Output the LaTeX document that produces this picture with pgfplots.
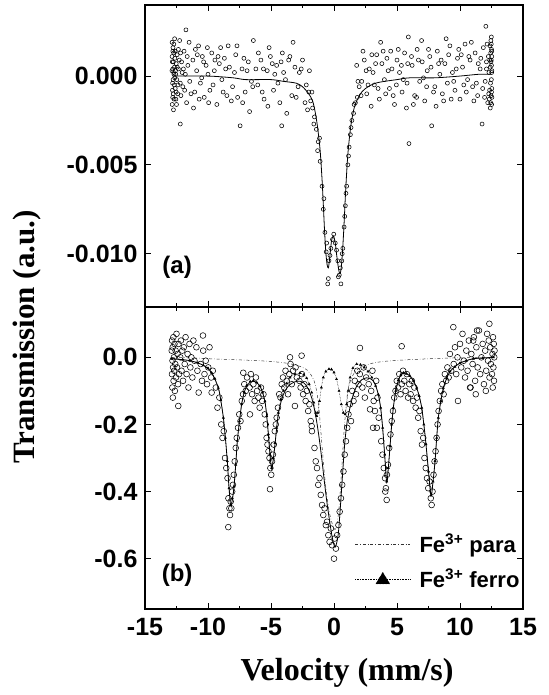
\documentclass[border=0pt]{standalone}
\usepackage{fontspec}
\setmainfont{Liberation Sans}
\newfontfamily\timesfont{Liberation Serif}
\usepackage{pgfplots}
\pgfplotsset{compat=1.18}
\pgfplotsset{
  myax/.style={scale only axis, width=378bp, height=302bp,
    xmin=-15, xmax=15, xtick={-15,-10,-5,0,5,10,15}, minor x tick num=1,
    tick align=inside, xtick pos=both, ytick pos=both,
    axis line style={line width=1.1bp},
    major tick length=6bp, minor tick length=3.5bp,
    every tick/.style={line width=0.8bp, black},
    tick label style={font=\bfseries\fontsize{25bp}{27bp}\selectfont},
    xticklabel style={yshift=-6bp}, yticklabel style={xshift=-4bp},
    scaled y ticks=false, scaled x ticks=false, clip=true},
  pts/.style={only marks, mark=o, black, mark options={line width=0.55bp}},
}
\begin{document}
\begin{tikzpicture}
\useasboundingbox (-145bp,-86bp) rectangle (404bp,609bp);
% ---------------- panel (b) ----------------
\begin{axis}[myax, at={(0bp,0bp)}, anchor=south west,
  ymin=-0.75, ymax=0.15, ytick={-0.6,-0.4,-0.2,0}, yticklabels={-0.6,-0.4,-0.2,0.0},
  xticklabels={-15,-10,-5,0,5,10,15},
  legend style={at={(0.555,0.06)}, anchor=south west, draw=none, fill=none,
    font=\bfseries\fontsize{22bp}{24bp}\selectfont, row sep=11bp, inner sep=0pt,
    cells={anchor=west}}]
\addplot[pts, mark size=2.9bp, forget plot] coordinates {
(-12.88,0.02) (-12.86,-0.05) (-12.85,0.05) (-12.83,-0.09) (-12.82,-0.01) (-12.80,0.03) (-12.79,-0.12) (-12.77,-0.03)
(-12.75,0.06) (-12.73,-0.07) (-12.71,0.00) (-12.68,-0.04) (-12.66,0.04) (-12.63,-0.10) (-12.60,-0.02) (-12.57,0.02)
(-12.54,-0.06) (-12.50,0.07) (-12.46,-0.03) (-12.42,0.01) (-12.38,-0.08) (-12.34,0.04) (-12.30,-0.05) (-12.36,-0.145)
(-12.20,0.00) (-12.15,0.05) (-12.10,-0.04) (-12.04,0.02) (-11.98,-0.07) (-11.92,0.03) (-11.85,-0.02) (-11.78,0.06)
(-11.70,-0.05) (-11.62,0.01) (-11.55,-0.09) (-11.47,0.04) (-11.40,-0.03) (-11.32,0.00) (-11.24,-0.06) (-11.16,0.05)
(-11.08,-0.01) (-10.74,-0.105) (-10.92,0.03) (-10.84,-0.04) (-10.40,0.065) (-10.58,-0.02) (-10.48,-0.07) (-10.38,0.02)
(-10.28,-0.05) (-10.18,-0.01) (-10.08,-0.08) (-9.98,-0.03) (-9.88,0.03) (-9.75,-0.06) (-9.62,-0.04) (-9.71,-0.105)
(-9.38,-0.09) (-9.25,-0.15) (-9.10,-0.12) (-8.95,-0.20) (-8.85,-0.24) (-8.75,-0.22) (-8.65,-0.30) (-8.55,-0.33)
(-8.45,-0.36) (-8.38,-0.42) (-8.30,-0.45) (-8.25,-0.47) (-8.20,-0.43) (-8.15,-0.45) (-8.39,-0.506) (-8.08,-0.40)
(-8.02,-0.38) (-7.95,-0.35) (-7.88,-0.31) (-7.80,-0.27) (-7.72,-0.24) (-7.62,-0.21) (-7.52,-0.17) (-7.42,-0.19)
(-7.32,-0.13) (-7.22,-0.11) (-7.12,-0.08) (-7.00,-0.10) (-6.90,-0.06) (-7.20,-0.046) (-6.70,-0.09) (-6.60,-0.05)
(-6.50,-0.11) (-6.40,-0.08) (-6.30,-0.13) (-6.20,-0.06) (-6.10,-0.10) (-6.00,-0.12) (-5.90,-0.15) (-6.67,-0.17)
(-5.80,-0.09) (-5.70,-0.13) (-5.60,-0.11) (-5.50,-0.17) (-5.42,-0.20) (-5.35,-0.24) (-5.28,-0.26) (-5.20,-0.28)
(-5.12,-0.30) (-5.05,-0.33) (-4.98,-0.35) (-4.92,-0.31) (-4.85,-0.29) (-5.08,-0.393) (-4.78,-0.26) (-4.70,-0.22)
(-4.62,-0.20) (-4.55,-0.18) (-4.45,-0.15) (-4.35,-0.11) (-4.25,-0.12) (-4.15,-0.08) (-4.05,-0.06) (-3.95,-0.09)
(-3.85,-0.04) (-3.75,-0.07) (-3.65,-0.11) (-3.55,-0.05) (-3.45,-0.02) (-3.35,-0.08) (-3.25,-0.04) (-3.10,-0.145)
(-3.05,-0.03) (-2.95,-0.06) (-3.49,0.00) (-2.57,0.005) (-2.75,-0.07) (-2.65,-0.09) (-2.55,-0.05) (-2.45,-0.11)
(-2.35,-0.08) (-2.25,-0.13) (-2.15,-0.10) (-2.05,-0.16) (-1.95,-0.14) (-1.85,-0.19) (-1.75,-0.22) (-1.77,-0.205)
(-1.55,-0.27) (-1.45,-0.31) (-1.35,-0.33) (-1.25,-0.38) (-1.15,-0.36) (-1.05,-0.41) (-0.95,-0.44) (-0.85,-0.47)
(-0.75,-0.45) (-0.65,-0.50) (-0.55,-0.49) (-0.45,-0.53) (-0.35,-0.55) (-0.25,-0.51) (-0.15,-0.56) (0.00,-0.60)
(0.05,-0.54) (0.15,-0.57) (0.25,-0.53) (0.35,-0.50) (0.45,-0.46) (0.55,-0.42) (0.65,-0.38) (0.75,-0.34)
(0.85,-0.29) (0.95,-0.25) (1.05,-0.21) (1.15,-0.17) (1.25,-0.14) (1.35,-0.19) (1.45,-0.10) (1.55,-0.13)
(1.65,-0.07) (1.75,-0.11) (1.85,-0.04) (1.95,-0.08) (2.05,-0.05) (2.06,0.028) (2.25,-0.09) (2.35,-0.03)
(2.45,-0.12) (2.55,-0.06) (2.86,-0.155) (2.75,-0.08) (2.95,-0.10) (3.05,-0.04) (3.15,-0.13) (3.25,-0.16)
(3.35,-0.07) (3.45,-0.12) (3.55,-0.18) (3.10,-0.21) (3.40,-0.21) (3.75,-0.25) (3.85,-0.29) (3.95,-0.33)
(4.05,-0.36) (4.12,-0.39) (4.20,-0.35) (4.28,-0.32) (4.07,-0.40) (4.18,-0.425) (4.38,-0.27) (4.48,-0.23)
(4.58,-0.19) (4.68,-0.16) (4.78,-0.12) (4.88,-0.10) (4.98,-0.07) (5.08,-0.09) (5.18,-0.05) (5.28,-0.11)
(5.38,-0.08) (5.48,-0.04) (5.58,-0.07) (5.68,-0.10) (5.78,-0.05) (5.88,-0.12) (5.98,-0.08) (5.37,0.033)
(6.08,-0.11) (6.18,-0.07) (6.28,-0.13) (6.38,-0.09) (6.48,-0.15) (6.58,-0.12) (6.68,-0.18) (6.78,-0.16)
(6.88,-0.22) (6.98,-0.26) (7.08,-0.24) (7.18,-0.30) (7.28,-0.33) (7.38,-0.36) (7.48,-0.39) (7.58,-0.37)
(7.68,-0.42) (7.75,-0.44) (7.82,-0.40) (7.90,-0.35) (7.98,-0.31) (8.06,-0.28) (8.14,-0.24) (8.22,-0.20)
(8.30,-0.16) (8.40,-0.13) (8.50,-0.10) (8.60,-0.08) (8.70,-0.11) (8.80,-0.05) (8.90,-0.07) (9.00,-0.03)
(9.10,-0.06) (9.20,0.01) (9.30,-0.04) (9.47,0.09) (9.50,-0.02) (9.60,0.03) (9.70,-0.05) (9.80,0.00)
(9.84,-0.13) (10.00,0.04) (10.10,-0.03) (10.20,0.07) (10.30,-0.01) (10.40,-0.06) (10.50,0.02) (10.60,-0.04)
(10.70,0.05) (10.80,-0.09) (10.90,0.01) (11.00,-0.02) (11.10,0.06) (11.20,-0.07) (11.30,0.03) (11.40,-0.03)
(11.50,0.08) (11.60,-0.05) (11.70,0.00) (11.80,0.04) (11.90,-0.08) (12.00,0.02) (12.08,-0.04) (12.15,0.07)
(12.22,-0.01) (12.28,0.05) (12.34,-0.06) (12.40,0.03) (12.45,-0.02) (12.33,0.10) (12.54,-0.05) (12.58,0.01)
(12.62,0.06) (12.65,-0.03) (12.68,0.04) (12.70,-0.07) (12.72,0.00) (12.74,0.02) (11.25,-0.11) (10.84,-0.09)
(11.35,0.08) (12.05,-0.10) (12.60,-0.09) (11.05,0.05)
};
% total fit
\addplot[black, line width=0.8bp, smooth, forget plot] coordinates {
(-12.88,-0.004) (-11.43,-0.010) (-10.37,-0.024) (-9.71,-0.046) (-9.18,-0.091) (-8.98,-0.130) (-8.78,-0.180)
(-8.62,-0.24) (-8.47,-0.309) (-8.33,-0.39) (-8.20,-0.442) (-8.07,-0.425) (-7.94,-0.388) (-7.80,-0.32)
(-7.67,-0.249) (-7.50,-0.19) (-7.33,-0.140) (-7.13,-0.105) (-6.93,-0.086) (-6.65,-0.074) (-6.40,-0.071)
(-6.13,-0.076) (-5.87,-0.086) (-5.67,-0.105) (-5.48,-0.131) (-5.34,-0.175) (-5.21,-0.229) (-5.08,-0.29)
(-4.95,-0.333) (-4.82,-0.305) (-4.68,-0.259) (-4.55,-0.21) (-4.42,-0.170) (-4.22,-0.135) (-4.02,-0.111)
(-3.75,-0.092) (-3.49,-0.081) (-3.10,-0.073) (-2.70,-0.071) (-2.40,-0.076) (-2.17,-0.086) (-1.97,-0.100)
(-1.77,-0.121) (-1.57,-0.152) (-1.38,-0.190) (-1.18,-0.24) (-0.98,-0.299) (-0.78,-0.365) (-0.58,-0.427)
(-0.38,-0.48) (-0.19,-0.526) (-0.05,-0.552) (0.08,-0.566) (0.20,-0.555) (0.34,-0.526) (0.47,-0.465)
(0.61,-0.388) (0.74,-0.315) (0.87,-0.249) (1.05,-0.19) (1.27,-0.150) (1.50,-0.115) (1.80,-0.086)
(2.20,-0.067) (2.59,-0.061) (2.85,-0.063) (3.12,-0.071) (3.32,-0.086) (3.52,-0.111) (3.70,-0.15)
(3.86,-0.210) (4.02,-0.29) (4.18,-0.373) (4.31,-0.33) (4.44,-0.269) (4.57,-0.205) (4.71,-0.150)
(4.90,-0.100) (5.10,-0.071) (5.30,-0.052) (5.50,-0.046) (5.75,-0.048) (6.03,-0.056) (6.30,-0.070)
(6.56,-0.091) (6.76,-0.115) (6.96,-0.150) (7.13,-0.20) (7.30,-0.259) (7.50,-0.34) (7.70,-0.412)
(7.86,-0.37) (8.02,-0.309) (8.15,-0.24) (8.28,-0.180) (8.48,-0.13) (8.68,-0.091) (8.95,-0.062)
(9.21,-0.042) (9.60,-0.028) (10.00,-0.017) (10.50,-0.010) (11.06,-0.004) (11.80,-0.002) (12.65,0.000)
};
% Fe3+ para
\addplot[black!80, line width=0.5bp, dash dot, smooth,
  legend image code/.code={\draw[black!80, line width=0.6bp, dash dot] (0bp,0bp) -- (55bp,0bp); \path (62bp,0bp);}]
coordinates {
(-12.88,0.000) (-11,-0.002) (-10,-0.004) (-8,-0.007) (-6,-0.010) (-4.5,-0.014) (-3.5,-0.019) (-2.7,-0.027)
(-2.2,-0.036) (-1.9,-0.048) (-1.6,-0.068) (-1.38,-0.10) (-1.2,-0.15) (-0.98,-0.25) (-0.78,-0.34) (-0.58,-0.41)
(-0.38,-0.46) (-0.19,-0.49) (0.0,-0.51) (0.15,-0.51) (0.34,-0.47) (0.50,-0.40) (0.65,-0.31) (0.80,-0.22)
(0.95,-0.15) (1.1,-0.10) (1.3,-0.07) (1.55,-0.05) (1.9,-0.035) (2.4,-0.025) (3.1,-0.017) (4.0,-0.012)
(5.0,-0.009) (6.5,-0.006) (8.5,-0.003) (10.5,-0.001) (12.65,0.000)
};
\addlegendentry{Fe\textsuperscript{3+} para}
% Fe3+ ferro
\addplot[black, line width=0.5bp, densely dotted, smooth, mark=triangle*, mark size=1.2bp,
  mark options={solid},
  legend image code/.code={\draw[black, line width=0.6bp, densely dotted] (0bp,0bp) -- (55bp,0bp);
    \fill[black] (27.5bp,6.5bp) -- (20.5bp,-5bp) -- (34.5bp,-5bp) -- cycle; \path (62bp,0bp);}]
coordinates {
(-12.88,-0.004) (-12.0,-0.007) (-11.43,-0.010) (-10.8,-0.016) (-10.37,-0.024) (-10.0,-0.032) (-9.71,-0.046)
(-9.45,-0.064) (-9.18,-0.091) (-8.98,-0.128) (-8.78,-0.180) (-8.62,-0.24) (-8.47,-0.309) (-8.33,-0.39)
(-8.2,-0.440) (-8.07,-0.42) (-7.94,-0.385) (-7.80,-0.32) (-7.67,-0.249) (-7.50,-0.19) (-7.33,-0.140)
(-7.13,-0.105) (-6.93,-0.084) (-6.65,-0.072) (-6.40,-0.069) (-6.13,-0.075) (-5.87,-0.086) (-5.67,-0.105)
(-5.48,-0.131) (-5.34,-0.175) (-5.21,-0.229) (-5.08,-0.29) (-4.95,-0.330) (-4.82,-0.30) (-4.68,-0.255)
(-4.55,-0.21) (-4.42,-0.165) (-4.22,-0.125) (-4.02,-0.100) (-3.75,-0.078) (-3.49,-0.060) (-3.10,-0.050)
(-2.70,-0.047) (-2.40,-0.052) (-2.17,-0.062) (-1.97,-0.080) (-1.77,-0.105) (-1.60,-0.135) (-1.45,-0.165)
(-1.37,-0.175) (-1.28,-0.165) (-1.15,-0.13) (-1.0,-0.09) (-0.85,-0.06) (-0.65,-0.042) (-0.40,-0.035)
(-0.20,-0.036) (0.0,-0.045) (0.2,-0.065) (0.4,-0.10) (0.58,-0.14) (0.74,-0.165) (0.88,-0.17) (1.0,-0.14)
(1.12,-0.10) (1.28,-0.06) (1.5,-0.032) (1.8,-0.020) (2.1,-0.022) (2.4,-0.030) (2.7,-0.042) (3.0,-0.060)
(3.3,-0.085) (3.52,-0.111) (3.70,-0.15) (3.86,-0.210) (4.02,-0.29) (4.18,-0.370) (4.31,-0.33) (4.44,-0.265)
(4.57,-0.200) (4.71,-0.150) (4.90,-0.100) (5.10,-0.068) (5.30,-0.052) (5.50,-0.046) (5.75,-0.049)
(6.03,-0.056) (6.30,-0.070) (6.56,-0.091) (6.76,-0.115) (6.96,-0.150) (7.13,-0.20) (7.30,-0.259)
(7.50,-0.34) (7.70,-0.412) (7.86,-0.37) (8.02,-0.309) (8.15,-0.24) (8.28,-0.180) (8.48,-0.13) (8.68,-0.091)
(8.95,-0.062) (9.21,-0.042) (9.6,-0.028) (10.0,-0.017) (10.5,-0.010) (11.06,-0.004) (11.8,-0.002) (12.65,0.000)
};
\addlegendentry{Fe\textsuperscript{3+} ferro}
\node[font=\bfseries\fontsize{24bp}{26bp}\selectfont] at (rel axis cs:0.085,0.11) {(b)};
\end{axis}
% ---------------- panel (a) ----------------
\begin{axis}[myax, at={(0bp,302bp)}, anchor=south west,
  ymin=-0.013, ymax=0.004, ytick={-0.010,-0.005,0}, yticklabels={-0.010,-0.005,0.000},
  xticklabels={}]
\addplot[pts, mark size=2.0bp] coordinates {
(-12.85,0.0019) (-12.85,0.0011) (-12.82,-0.0008) (-12.80,0.0004) (-12.80,-0.0012) (-12.78,0.0016) (-12.77,-0.0002)
(-12.75,0.0008) (-12.74,-0.0019) (-12.72,0.0013) (-12.70,0.0001) (-12.68,-0.0005) (-12.66,0.0005) (-12.63,0.0010)
(-12.60,-0.0007) (-12.58,0.0003) (-12.55,-0.0013) (-12.52,0.0007) (-12.48,-0.0002) (-12.45,0.0012) (-12.40,-0.0010)
(-12.35,0.0004) (-12.20,-0.0027) (-12.25,0.0020) (-12.20,-0.0004) (-12.10,0.0008) (-12.00,-0.0006) (-11.90,0.0014)
(-11.80,0.0001) (-11.70,-0.0015) (-11.60,0.0006) (-11.45,-0.0003) (-11.75,0.0026) (-11.20,0.0009) (-11.05,-0.0009)
(-10.90,0.0003) (-10.75,0.0017) (-10.60,-0.0004) (-10.45,0.0011) (-10.30,-0.0012) (-10.15,0.0006) (-10.00,0.0001)
(-9.85,-0.0008) (-9.70,0.0013) (-9.50,0.0003) (-9.30,-0.0016) (-9.10,0.0007) (-8.90,-0.0002) (-8.70,0.0010)
(-8.50,-0.0011) (-8.30,0.0005) (-8.05,-0.0006) (-7.80,0.0012) (-7.45,-0.0028) (-7.30,0.0004) (-7.05,-0.0009)
(-6.80,0.0008) (-6.55,-0.0003) (-6.40,0.0020) (-6.05,-0.0005) (-5.80,0.0009) (-5.55,-0.0013) (-5.30,0.0003)
(-5.05,0.0011) (-4.80,-0.0008) (-4.55,0.0006) (-4.30,-0.0015) (-4.10,0.0013) (-3.85,-0.0002) (-3.60,0.0009)
(-3.35,-0.0011) (-3.10,0.0005) (-2.85,-0.0006) (-2.60,0.0004) (-4.15,-0.0028) (-2.20,-0.0005) (-2.00,-0.0009)
(-1.85,-0.0014) (-1.70,-0.0018) (-1.55,-0.0023) (-1.40,-0.0030) (-1.25,-0.0037) (-1.10,-0.0048) (-0.95,-0.0062)
(-0.85,-0.0075) (-0.72,-0.0088) (-0.62,-0.0099) (-0.45,-0.0114) (-0.40,-0.0104) (-0.32,-0.0101) (-0.25,-0.0097)
(-0.12,-0.0092) (-0.02,-0.0089) (0.10,-0.0094) (0.20,-0.0098) (0.30,-0.0104) (0.42,-0.0112) (0.50,-0.0108)
(0.62,-0.0104) (0.70,-0.0097) (0.80,-0.0085) (0.90,-0.0073) (1.00,-0.0062) (1.10,-0.0050) (1.20,-0.0040)
(1.30,-0.0033) (1.42,-0.0025) (1.55,-0.0021) (1.70,-0.0015) (1.85,-0.0012) (2.00,-0.0006) (1.80,0.0006)
(2.20,-0.0003) (2.40,0.0009) (2.60,-0.0010) (2.80,0.0004) (3.00,0.0012) (3.20,-0.0005) (3.39,0.0012)
(3.60,-0.0013) (3.80,0.0007) (4.00,-0.0002) (4.20,0.0010) (4.40,-0.0007) (4.60,0.0004) (4.80,-0.0016)
(5.00,0.0009) (5.20,0.0002) (5.40,-0.0009) (5.60,0.0013) (5.80,-0.0004) (5.90,0.0022) (5.95,-0.0038)
(6.20,0.0006) (6.40,-0.0011) (6.60,0.0015) (6.80,-0.0003) (7.00,0.0008) (7.20,-0.0014) (7.40,0.0003)
(7.60,0.0011) (7.75,-0.0028) (8.00,-0.0006) (8.20,0.0014) (8.40,0.0001) (8.60,-0.0010) (8.80,0.0007)
(9.00,-0.0004) (9.20,0.0017) (9.40,0.0002) (9.60,-0.0008) (9.80,0.0010) (10.00,-0.0013) (10.20,0.0005)
(10.40,0.0018) (10.60,-0.0002) (10.80,0.0009) (11.00,-0.0006) (11.20,0.0013) (11.40,-0.0011) (11.60,0.0004)
(11.75,-0.0027) (11.85,0.0016) (12.00,-0.0003) (12.10,0.0008) (12.20,-0.0015) (12.25,0.0011) (12.30,0.0002)
(12.35,-0.0008) (12.38,0.0017) (12.40,0.0005) (12.42,-0.0004) (12.44,0.0013) (12.05,0.0028) (12.47,-0.0011)
(12.48,0.0009) (12.49,-0.0002) (12.50,0.0015) (12.50,0.0006) (12.51,-0.0016) (12.52,0.0011) (12.52,-0.0007)
(12.53,0.0003)
(-12.65,0.0021) (-12.5,-0.0016) (-12.35,0.0015) (-12.15,-0.0011) (-11.95,0.0004) (-11.5,0.0019) (-11.15,-0.0018)
(-10.85,0.0012) (-10.5,-0.0001) (-10.05,0.0016) (-9.6,-0.0005) (-9.2,0.0011) (-8.8,-0.0009) (-8.4,0.0017)
(-7.9,0.0002) (-7.65,-0.0012) (-7.15,0.0010) (-6.7,-0.0020) (-6.2,0.0004) (-5.7,-0.0009) (-5.15,0.0016)
(-4.7,0.0001) (-4.2,0.0008) (-3.75,-0.0021) (-3.25,0.0019) (-2.75,0.0002) (-2.3,-0.0015) (-1.95,0.0003)
(2.15,-0.0011) (2.55,0.0003) (2.95,-0.0017) (3.3,0.0007) (3.7,0.0019) (4.1,-0.0010) (4.5,0.0014)
(4.95,-0.0005) (5.35,0.0006) (5.75,-0.0018) (6.15,0.0011) (6.55,-0.0012) (6.95,0.0020) (7.35,-0.0006)
(7.7,0.0005) (8.1,-0.0017) (8.5,0.0009) (8.9,0.0021) (9.3,-0.0013) (9.7,0.0004) (10.1,0.0012)
(10.5,-0.0009) (10.9,0.0019) (11.3,-0.0004) (11.65,0.0010) (11.95,-0.0012) (12.15,0.0018) (12.33,-0.0013)
(12.45,0.0020) (12.40,-0.0018) (12.49,0.0022)
(-12.86,0.0003) (-12.84,-0.0016) (-12.83,0.0008) (-12.81,-0.0004) (-12.79,0.0014) (-12.76,-0.0010) (-12.73,0.0002)
(-12.71,0.0018) (-12.69,-0.0013) (-12.64,-0.0001) (-12.61,0.0014) (-12.56,0.0001) (-12.53,-0.0009) (-12.44,0.0005)
(-12.38,-0.0005) (-12.28,0.0009) (-12.18,0.0013) (-12.05,0.0002) (-11.85,-0.0008) (-11.65,0.0011) (-11.35,-0.0010)
(-11.0,0.0015) (-10.7,-0.0013) (-10.35,0.0008) (-9.95,-0.0015) (-9.45,0.0009) (-9.0,0.0016) (-8.6,0.0004)
(-8.15,-0.0014) (-7.7,0.0017) (-7.25,-0.0015) (-6.9,0.0003) (-6.45,-0.0006) (-6.0,0.0013) (-5.6,0.0004)
(-5.25,-0.0017) (-4.9,0.0007) (-4.45,-0.0004) (-4.0,0.0002) (-3.5,0.0011) (-3.0,-0.0012) (-2.5,0.0009)
(-2.1,-0.0019) (-1.75,-0.0009) (-1.6,-0.0027) (-1.3,-0.0042) (-1.15,-0.0035) (-0.8,-0.0069) (-0.58,-0.0094)
(-0.5,-0.0117) (0.35,-0.0113) (0.55,-0.0117) (0.65,-0.0100) (0.85,-0.0079) (0.95,-0.0066) (1.15,-0.0045)
(1.35,-0.0029) (1.6,-0.0016) (1.9,-0.0003) (2.3,0.0014) (2.7,-0.0005) (3.1,0.0002) (3.5,-0.0007)
(3.9,0.0014) (4.3,0.0003) (4.7,-0.0011) (5.1,0.0015) (5.5,-0.0002) (5.85,0.0007) (6.3,-0.0016)
(6.7,0.0009) (7.1,-0.0001) (7.5,0.0015) (7.9,-0.0009) (8.3,0.0007) (8.7,-0.0014) (9.1,0.0012)
(9.5,-0.0003) (9.9,0.0015) (10.3,-0.0005) (10.7,0.0011) (11.1,-0.0014) (11.45,0.0007) (11.8,-0.0007)
(12.1,0.0004) (12.28,-0.0010) (12.36,0.0009) (12.43,-0.0015) (12.46,0.0008) (12.48,0.0018) (12.50,-0.0009)
(12.51,0.0002) (12.52,0.0014) (12.53,-0.0012)
};
\addplot[black, line width=0.8bp, smooth] coordinates {
(-12.8,0.0000) (-10,0.0000) (-8.0,-0.0001) (-7,-0.0002) (-5,-0.0002) (-4,-0.0003) (-3,-0.0004) (-2.5,-0.0006)
(-2.0,-0.0010) (-1.7,-0.0014) (-1.5,-0.0020) (-1.3,-0.0029) (-1.1,-0.0042) (-0.95,-0.0058) (-0.85,-0.0072)
(-0.75,-0.0087) (-0.65,-0.0099) (-0.55,-0.0106) (-0.45,-0.0108) (-0.35,-0.0103) (-0.2,-0.0093) (-0.05,-0.0090)
(0.1,-0.0094) (0.25,-0.0103) (0.4,-0.0110) (0.5,-0.0111) (0.6,-0.0106) (0.7,-0.0096) (0.8,-0.0083)
(0.9,-0.0068) (1.0,-0.0055) (1.1,-0.0044) (1.25,-0.0033) (1.4,-0.0025) (1.6,-0.0018) (1.8,-0.0014)
(2.2,-0.0009) (2.7,-0.0006) (3.3,-0.0004) (4.0,-0.0003) (5.0,-0.0002) (6.0,-0.0001) (8,-0.0001)
(10,0.0000) (11.5,0.0001) (12.5,0.0001)
};
\node[font=\bfseries\fontsize{24bp}{26bp}\selectfont] at (rel axis cs:0.085,0.13) {(a)};
\end{axis}
% axis labels
\node[rotate=90, font=\timesfont\bfseries\fontsize{31bp}{33bp}\selectfont] at (-118bp,272bp) {Transmission (a.u.)};
\node[font=\timesfont\bfseries\fontsize{32bp}{34bp}\selectfont] at (202bp,-64bp) {Velocity (mm/s)};
\end{tikzpicture}
\end{document}
